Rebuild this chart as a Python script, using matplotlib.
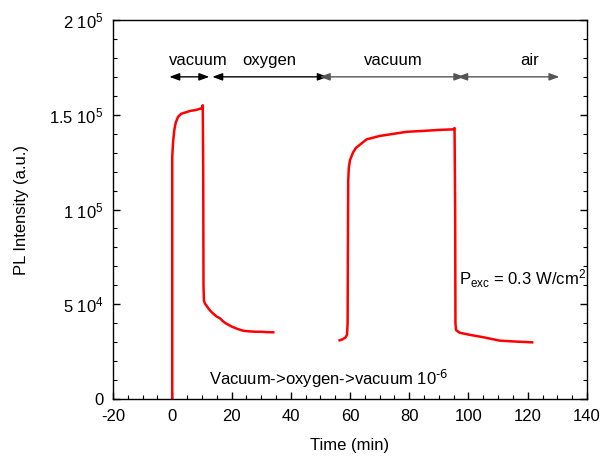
import matplotlib.pyplot as plt
from matplotlib.ticker import MultipleLocator, FixedLocator

plt.rcParams['font.family'] = ['Liberation Sans', 'DejaVu Sans']
plt.rcParams['mathtext.default'] = 'regular'
plt.rcParams['axes.unicode_minus'] = False

# first run: vacuum -> oxygen
t1 = [0, 0, 0.3, 0.7, 1.2, 2, 3, 4, 6, 8, 10, 10.3, 10.45, 10.55, 10.7, 11, 12.2,
      13, 14, 15, 16.1, 17, 18, 20.1, 22, 24, 26, 28, 30, 32, 34.1]
i1 = [0, 128000, 136000, 142000, 146000, 149000, 150500, 151000, 152000, 152500,
      153500, 155000, 120000, 60000, 52000, 50500, 47800, 46300, 44800, 43500,
      42600, 41200, 40000, 38200, 37000, 36000, 35700, 35500, 35500, 35300, 35200]

# second run: vacuum -> air
t2 = [56.5, 57.5, 58.5, 59, 59.2, 59.3, 59.4, 59.6, 60, 61, 62, 64, 65.6, 70, 75,
      79.1, 85, 90, 94.9, 95.3, 95.5, 95.6, 95.8, 97, 100, 105, 110.6, 115, 121.5]
i2 = [31000, 31500, 32500, 34000, 40000, 80000, 115000, 122000, 126000, 130000,
      132500, 135000, 137000, 138800, 140000, 141000, 141500, 142000, 142300,
      143000, 100000, 40000, 36400, 35000, 34000, 32600, 30800, 30400, 29900]

# environment arrows: (start, end, colour) and labels
arrow_spans = [(-1.0, 12.5, 'black'), (13.5, 52.5, 'black'),
               (49.8, 98.6, '#555555'), (96.2, 130.7, '#555555')]
phase_labels = ['vacuum', 'oxygen', 'vacuum', 'air']
label_x = [8.7, 32.7, 74.6, 120.5]

ytick_vals = [0, 50000, 100000, 150000, 200000]
ytick_text = ['0', r'5 10$^4$', r'1 10$^5$', r'1.5 10$^5$', r'2 10$^5$']

fs = 12

fig = plt.figure(figsize=(6.05, 4.65), dpi=100)
ax = fig.add_axes([0.1868, 0.1419, 0.7834, 0.8151])

ax.plot(t1, i1, color='red', lw=1.8)
ax.plot(t2, i2, color='red', lw=1.8)

for (a, b, c) in arrow_spans:
    ax.annotate('', xy=(b, 170000), xytext=(a, 170000),
                arrowprops=dict(arrowstyle='<|-|>,head_length=0.6,head_width=0.22',
                                color=c, lw=1.0, shrinkA=0, shrinkB=0))
for lab, x in zip(phase_labels, label_x):
    ax.text(x, 178500, lab, ha='center', va='center', fontsize=fs)

ax.text(96.8, 63500, r'P$_{exc}$ = 0.3 W/cm$^2$', ha='left', va='center', fontsize=fs)
ax.text(12.3, 10500, r'Vacuum->oxygen->vacuum 10$^{\text{-6}}$', ha='left',
        va='center', fontsize=fs)

ax.set_xlim(-20, 140)
ax.set_ylim(0, 200000)
ax.xaxis.set_major_locator(MultipleLocator(20))
ax.xaxis.set_minor_locator(MultipleLocator(5))
ax.yaxis.set_major_locator(FixedLocator(ytick_vals))
ax.yaxis.set_minor_locator(MultipleLocator(10000))
ax.set_yticklabels(ytick_text)

ax.tick_params(which='both', direction='in', top=False, right=True, labelsize=fs)
ax.tick_params(which='major', length=5, width=1, pad=7)
ax.tick_params(which='minor', length=3, width=0.8)
for s in ax.spines.values():
    s.set_linewidth(1.0)

ax.set_xlabel('Time (min)', fontsize=fs, labelpad=10)
ax.set_ylabel('PL Intensity (a.u.)', fontsize=fs, labelpad=14)

fig.savefig('out.png', dpi=100)
